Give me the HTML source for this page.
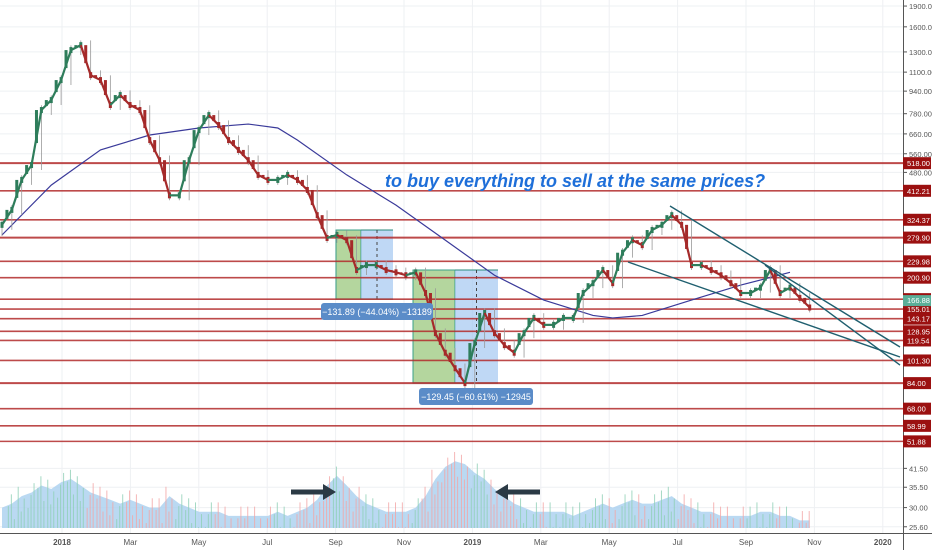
<!DOCTYPE html>
<html><head><meta charset="utf-8"><style>
html,body{margin:0;padding:0;background:#fff;}
svg{display:block;font-family:"Liberation Sans",sans-serif;}
</style></head><body>
<svg id="chart" width="932" height="550" viewBox="0 0 932 550"></svg>
<script>
const closes=[311,352,451,510,804,873,1030,1320,1375,1073,1030,838,910,838,804,627,531,397,397,531,681,771,710,627,578,531,470,451,451,470,451,415,337,279,286,274,214,223,223,214,210,205,210,177,127,108,95,84,117,150,127,115,108,127,144,136,136,144,144,177,192,214,192,247,274,263,298,311,337,311,223,223,214,205,192,177,177,185,214,177,185,170,157];
const volumes=[30,31,33,34,36,35,37,38,36,34,33,32,31,32,31,30,30,33,31,30,29,29,29,28,28,28,28,28,29,28,29,30,32,36,39,36,33,31,30,29,29,29,30,33,38,42,44,43,40,38,35,33,31,30,29,29,29,29,28,29,30,31,30,31,32,31,31,32,33,31,30,29,29,28,28,28,28,29,29,28,28,27,27];
const maIdx=[0,5,10,15,20,25,28,30,35,40,45,50,55,60,62,65,70,75,80];
const maVals=[286,432,578,654,693,716,693,627,470,366,274,205,167,147,144,147,167,189,210];
const levels=[518,412.21,324.37,279.9,229.98,200.9,168.24,155.01,143.17,128.95,119.54,101.3,84,68,58.99,51.88];
const levelLabels=["518.00","412.21","324.37","279.90","229.98","200.90","168.24","155.01","143.17","128.95","119.54","101.30","84.00","68.00","58.99","51.88"];
const axisTicks=[1900,1600,1300,1100,940,780,660,560,480,41.5,35.5,30,25.6];
const axisTickLabels=["1900.00","1600.00","1300.00","1100.00","940.00","780.00","660.00","560.00","480.00","41.50","35.50","30.00","25.60"];
const timeLabels=["2018","Mar","May","Jul","Sep","Nov","2019","Mar","May","Jul","Sep","Nov","2020"];
const timeMonths=[0,2,4,6,8,10,12,14,16,18,20,22,24];
const lastPrice=166.88;

const NS="http://www.w3.org/2000/svg";
const svg=document.getElementById('chart');
function el(t,a,p){const e=document.createElementNS(NS,t);for(const k in a)e.setAttribute(k,a[k]);(p||svg).appendChild(e);return e;}
const yS=p=>918.8-120.9*Math.log(p);
const xS=i=>i*9.85+2;
const xM=m=>62+m*34.2;
const AX=903;

const grid=el('g',{});
timeMonths.forEach(m=>{el('line',{x1:xM(m),x2:xM(m),y1:0,y2:533,stroke:'#eef0f3','stroke-width':1},grid);});
axisTicks.forEach(t=>{el('line',{x1:0,x2:AX,y1:yS(t),y2:yS(t),stroke:'#eef0f3','stroke-width':1},grid);});

const vg=el('g',{});
let d='M'+xS(0)+' 528';volumes.forEach((v,i)=>{d+=' L'+xS(i)+' '+yS(v);});d+=' L'+xS(volumes.length-1)+' 528 Z';
el('path',{d:d,fill:'#a9d0ef','fill-opacity':0.8},vg);
volumes.forEach((v,i)=>{if(i==0)return;const up=closes[i]>=closes[i-1];
for(let k=0;k<3;k++){const vv=v*(0.88+0.2*((i+k)%3)/2);const b=el('rect',{x:xS(i)-4+k*3,y:yS(vv),width:1,height:528-yS(vv),fill:up?'#8fcfb5':'#f2a5a5','fill-opacity':0.8},vg);
}});

function box(x1,x2,x3,y1,y2,name){const g=el('g',{});
el('rect',{x:x1,y:y1,width:x2-x1,height:y2-y1,fill:'#8cc06a','fill-opacity':0.65,stroke:'#3aa08a','stroke-width':1},g);
el('rect',{x:x2,y:y1,width:x3-x2,height:y2-y1,fill:'#9cc3f0','fill-opacity':0.65},g);
el('line',{x1:x2,x2:x3,y1:y1,y2:y1,stroke:'#2a8a7a'},g);el('line',{x1:x2,x2:x3,y1:y2,y2:y2,stroke:'#2a8a7a'},g);
el('line',{x1:(x2+x3)/2,x2:(x2+x3)/2,y1:y1,y2:y2,stroke:'#444','stroke-dasharray':'3,3'},g);}
box(336,361,393,230,299,'measure-box-2018');
box(413,455,498,270,383,'measure-box-2019');

levels.forEach((l,i)=>{const g=el('g',{});
el('line',{x1:0,x2:AX,y1:yS(l),y2:yS(l),stroke:'#b22a2a','stroke-width':(l==279.9||l==84||l==518)?2:1.6,'stroke-opacity':0.85},g);});

let md='';maIdx.forEach((ix,k)=>{md+=(k?' L':'M')+xS(ix)+' '+yS(maVals[k]);});
const ma=el('path',{d:md,fill:'none',stroke:'#3a3a9a','stroke-width':1.2});

const cg=el('g',{});
closes.forEach((c,i)=>{const o=i?closes[i-1]:c*0.95;const up=c>=o;const x=xS(i);const col=up?'#2e7d5b':'#a52a2a';
const hi=Math.max(o,c)*1.04,lo=Math.min(o,c)*0.96;
el('line',{x1:x,x2:x,y1:yS(hi),y2:yS(lo),stroke:'#999','stroke-width':0.8},cg);
if(i){const xp=xS(i-1);const mid=(o+c)/2;
el('line',{x1:xp,x2:x,y1:yS(o),y2:yS(c),stroke:col,'stroke-width':2.2},cg);
el('rect',{x:(xp+x)/2-1.5,y:yS(Math.max(o,c)*1.0),width:3,height:Math.max(1,yS(Math.min(o,c))-yS(Math.max(o,c)))*0.6,fill:col},cg);}
el('rect',{x:x-1.5,y:yS(c)-3,width:3,height:6,fill:col},cg);});

[[670,206,900,347],[628,262,900,357],[765,265,900,365]].forEach((t,i)=>{const l=el('line',{x1:t[0],y1:t[1],x2:t[2],y2:t[3],stroke:'#1f5f6f','stroke-width':1.4});});

function lab(x,y,w,txt,name){const g=el('g',{});
el('rect',{x:x,y:y,width:w,height:17,rx:3,fill:'#5b8cc8'},g);const t=el('text',{x:x+w/2,y:y+12,'font-size':9,fill:'#fff','text-anchor':'middle'},g);t.textContent=txt;}
lab(321,303,112,'−131.89 (−44.04%) −13189','measure-label-2018');
lab(419,388,114,'−129.45 (−60.61%) −12945','measure-label-2019');

const an=el('text',{x:385,y:187,'font-size':18,'font-weight':'bold','font-style':'italic',fill:'#1e6fd9'});an.textContent='to buy everything to sell at the same prices?';


function arrow(x1,x2,name){const g=el('g',{});
const dir=x2>x1?1:-1;el('line',{x1:x1,x2:x2-dir*8,y1:492,y2:492,stroke:'#2b3a45','stroke-width':5},g);
el('polygon',{points:`${x2},492 ${x2-dir*13},484 ${x2-dir*13},500`,fill:'#2b3a45'},g);}
arrow(291,336,'arrow-right');arrow(540,495,'arrow-left');

el('rect',{x:AX,y:0,width:932-AX,height:550,fill:'#fff'});
el('line',{x1:AX+0.5,x2:AX+0.5,y1:0,y2:550,stroke:'#555'});
el('line',{x1:0,x2:932,y1:533.5,y2:533.5,stroke:'#555'});
axisTicks.forEach((t,i)=>{el('line',{x1:AX,x2:AX+4,y1:yS(t),y2:yS(t),stroke:'#555'});
const tx=el('text',{x:AX+6,y:yS(t)+3,'font-size':7.5,fill:'#555'});tx.textContent=axisTickLabels[i];
});
levels.forEach((l,i)=>{const g=el('g',{});
el('rect',{x:AX,y:yS(l)-6,width:28,height:12,fill:'#9b1010'},g);
const t=el('text',{x:AX+4,y:yS(l)+3,'font-size':7.5,fill:'#fff'},g);t.textContent=levelLabels[i];});
{const g=el('g',{});
el('rect',{x:AX,y:yS(lastPrice)-5,width:28,height:11,fill:'#5aae98'},g);
const t=el('text',{x:AX+4,y:yS(lastPrice)+3,'font-size':7.5,fill:'#fff'},g);t.textContent=lastPrice.toFixed(2);}
timeMonths.forEach((m,i)=>{const t=el('text',{x:xM(m),y:545,'font-size':8,fill:'#555','text-anchor':'middle','font-weight':timeLabels[i].length==4?'bold':'normal'});t.textContent=timeLabels[i];
});
</script>
</body></html>
